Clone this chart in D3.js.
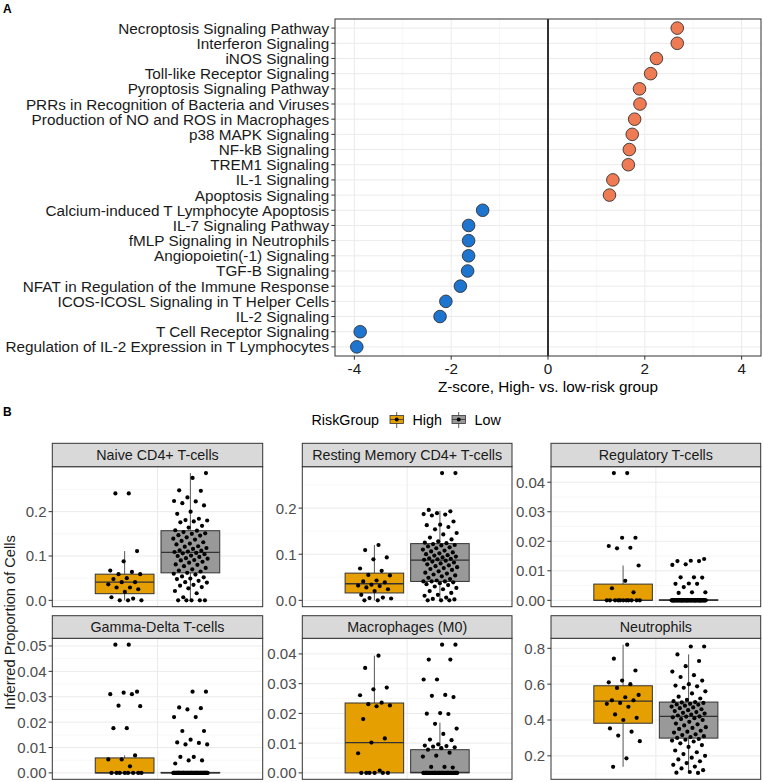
<!DOCTYPE html>
<meta charset="utf-8">
<style>
body { margin: 0; background: #fff; }
text { font-family: Arial, "Liberation Sans", sans-serif; }
.grid-major { stroke: #ebebeb; stroke-width: 1; }
.grid-minor { stroke: #f2f2f2; stroke-width: 0.6; }
.frame { fill: none; stroke: #333; stroke-width: 1; }
.tick { stroke: #333; stroke-width: 1; }
</style>
<body>
<script src="https://d3js.org/d3.v7.min.js"></script>
<script>

var width = 763,
    height = 782;

// ---------- panel A data ----------
var pathways = [
  "Necroptosis Signaling Pathway",
  "Interferon Signaling",
  "iNOS Signaling",
  "Toll-like Receptor Signaling",
  "Pyroptosis Signaling Pathway",
  "PRRs in Recognition of Bacteria and Viruses",
  "Production of NO and ROS in Macrophages",
  "p38 MAPK Signaling",
  "NF-kB Signaling",
  "TREM1 Signaling",
  "IL-1 Signaling",
  "Apoptosis Signaling",
  "Calcium-induced T Lymphocyte Apoptosis",
  "IL-7 Signaling Pathway",
  "fMLP Signaling in Neutrophils",
  "Angiopoietin(-1) Signaling",
  "TGF-B Signaling",
  "NFAT in Regulation of the Immune Response",
  "ICOS-ICOSL Signaling in T Helper Cells",
  "IL-2 Signaling",
  "T Cell Receptor Signaling",
  "Regulation of IL-2 Expression in T Lymphocytes"
];
var zscores = [2.67, 2.67, 2.24, 2.12, 1.89, 1.90, 1.79, 1.74, 1.68, 1.66, 1.34, 1.27,
  -1.35, -1.64, -1.64, -1.64, -1.66, -1.81, -2.11, -2.23, -3.88, -3.95];
var zTicks = [-4, -2, 0, 2, 4];

// ---------- panel B data ----------
var cellTypes = ["Naive CD4+ T-cells", "Resting Memory CD4+ T-cells", "Regulatory T-cells",
  "Gamma-Delta T-cells", "Macrophages (M0)", "Neutrophils"];
var riskGroups = ["High", "Low"];

var naiveHigh = [0.241, 0.241, 0.111, 0.088, 0.067, 0.064, 0.059, 0.059, 0.05, 0.048, 0.041, 0.041,
  0.036, 0.029, 0.029, 0.025, 0.019, 0.007, 0.004, 0, 0, 0];
var naiveLow = [0.287, 0.276, 0.248, 0.247, 0.232, 0.224, 0.223, 0.219, 0.214, 0.2, 0.195, 0.184, 0.181,
  0.18, 0.178, 0.176, 0.168, 0.164, 0.158, 0.157, 0.154, 0.151, 0.15, 0.147, 0.146, 0.142, 0.139,
  0.137, 0.134, 0.131, 0.128, 0.126, 0.122, 0.121, 0.118, 0.116, 0.113, 0.112, 0.11, 0.109,
  0.107, 0.106, 0.104, 0.101, 0.1, 0.098, 0.095, 0.094, 0.091, 0.09, 0.087, 0.085, 0.081, 0.08,
  0.077, 0.073, 0.07, 0.067, 0.065, 0.062, 0.06, 0.058, 0.054, 0.052, 0.049, 0.048, 0.044, 0.041,
  0.04, 0.035, 0.033, 0.03, 0.027, 0.021, 0.016, 0.007, 0, 0, 0, 0, 0];
var restingHigh = [0.12, 0.109, 0.093, 0.089, 0.069, 0.064, 0.055, 0.054, 0.043, 0.041, 0.039, 0.034,
  0.032, 0.031, 0.028, 0.024, 0.02, 0.012, 0.006, 0.005, 0.004, 0, 0];
var restingLow = [0.276, 0.276, 0.196, 0.193, 0.189, 0.187, 0.186, 0.184, 0.171, 0.164, 0.163, 0.159,
  0.154, 0.146, 0.143, 0.136, 0.132, 0.128, 0.125, 0.124, 0.122, 0.12, 0.119, 0.117, 0.115, 0.113,
  0.11, 0.108, 0.106, 0.104, 0.102, 0.1, 0.098, 0.097, 0.095, 0.093, 0.091, 0.09, 0.089, 0.088,
  0.086, 0.084, 0.082, 0.08, 0.078, 0.076, 0.074, 0.072, 0.07, 0.068, 0.066, 0.063, 0.06, 0.058,
  0.056, 0.054, 0.052, 0.049, 0.046, 0.043, 0.041, 0.041, 0.041, 0.039, 0.037, 0.035, 0.033, 0.03,
  0.027, 0.024, 0.02, 0.016, 0.012, 0.01, 0.006, 0.003, 0.002, 0, 0, 0];
var tregHigh = [0.0431, 0.0431, 0.0212, 0.0212, 0.0184, 0.0178, 0.0176, 0.0118, 0.0066, 0.0041, 0.0027,
  0, 0, 0, 0, 0, 0, 0, 0, 0, 0, 0];
var tregLow = [0.014, 0.0134, 0.0133, 0.0133, 0.0122, 0.012, 0.0078, 0.0078, 0.0077, 0.0057, 0.0056,
  0.0056, 0.0045, 0.0027, 0.0027, 0.0025,
  0, 0, 0, 0, 0, 0, 0, 0, 0, 0, 0, 0, 0, 0, 0, 0, 0, 0, 0, 0,
  0, 0, 0, 0, 0, 0, 0, 0, 0, 0, 0, 0, 0, 0, 0, 0, 0, 0, 0, 0,
  0, 0, 0, 0, 0, 0, 0, 0, 0, 0, 0, 0, 0, 0, 0, 0, 0, 0, 0, 0];
var gdHigh = [0.0505, 0.0505, 0.032, 0.0316, 0.031, 0.031, 0.0265, 0.0263, 0.0176, 0.0176, 0.0069,
  0.0053, 0.0053, 0.0026, 0, 0, 0, 0, 0, 0, 0, 0];
var gdLow = [0.032, 0.032, 0.0258, 0.0255, 0.025, 0.022, 0.022, 0.0165, 0.0165, 0.0131, 0.012, 0.0118,
  0.0112, 0.0112, 0.0063, 0.0063, 0.0049, 0.0049, 0.0037,
  0, 0, 0, 0, 0, 0, 0, 0, 0, 0, 0, 0, 0, 0, 0, 0, 0, 0, 0, 0,
  0, 0, 0, 0, 0, 0, 0, 0, 0, 0, 0, 0, 0, 0, 0, 0, 0, 0, 0, 0,
  0, 0, 0, 0, 0, 0, 0, 0, 0, 0, 0, 0, 0, 0, 0, 0, 0, 0, 0, 0];
var m0High = [0.0394, 0.0353, 0.0287, 0.0281, 0.0261, 0.0236, 0.0231, 0.0227, 0.0224, 0.0181, 0.0116,
  0.0102, 0.0066, 0.0008, 0, 0, 0, 0, 0, 0];
var m0Low = [0.0431, 0.0431, 0.0381, 0.0381, 0.0314, 0.0314, 0.0262, 0.0259, 0.0255, 0.0201, 0.0199,
  0.0198, 0.0165, 0.0149, 0.0131, 0.0112, 0.011, 0.0096, 0.0092, 0.009, 0.0088, 0.0086, 0.0083,
  0.0078, 0.0068, 0.0058, 0.0055, 0.002, 0.002, 0.0018,
  0, 0, 0, 0, 0, 0, 0, 0, 0, 0, 0, 0, 0, 0, 0, 0, 0, 0, 0, 0,
  0, 0, 0, 0, 0, 0, 0, 0, 0, 0, 0, 0, 0, 0, 0, 0, 0, 0, 0, 0];
var neutHigh = [0.82, 0.742, 0.676, 0.62, 0.61, 0.6, 0.579, 0.54, 0.527, 0.51, 0.51, 0.495, 0.49,
  0.474, 0.431, 0.412, 0.4, 0.353, 0.335, 0.313, 0.282, 0.186, 0.139];
var neutLow = [0.81, 0.81, 0.766, 0.729, 0.7, 0.67, 0.65, 0.64, 0.62, 0.6, 0.592, 0.588, 0.58, 0.56,
  0.548, 0.53, 0.52, 0.512, 0.505, 0.5, 0.498, 0.495, 0.49, 0.487, 0.485, 0.48, 0.475, 0.47, 0.466,
  0.46, 0.455, 0.45, 0.444, 0.44, 0.436, 0.43, 0.425, 0.42, 0.419, 0.415, 0.41, 0.405, 0.4, 0.39,
  0.38, 0.376, 0.37, 0.36, 0.356, 0.35, 0.34, 0.335, 0.33, 0.32, 0.316, 0.31, 0.305, 0.3, 0.294,
  0.29, 0.285, 0.28, 0.27, 0.26, 0.25, 0.23, 0.22, 0.21, 0.2, 0.19, 0.18, 0.17, 0.16, 0.15, 0.14,
  0.13, 0.12, 0.11, 0.106, 0.105];

// box stats: [lower whisker, q1, median, q3, upper whisker]
var boxHigh = [
  [0, 0.015, 0.041, 0.059, 0.111],
  [0, 0.016, 0.036, 0.059, 0.12],
  [0, 0, 0, 0.0055, 0.0118],
  [0, 0, 0, 0.0059, 0.0069],
  [0, 0, 0.0102, 0.0235, 0.0394],
  [0.139, 0.382, 0.505, 0.591, 0.82]
];
var boxLow = [
  [0, 0.062, 0.108, 0.157, 0.287],
  [0, 0.041, 0.087, 0.123, 0.194],
  [0, 0, 0, 0.0002, 0.0005],
  [0, 0, 0, 0.0002, 0.0004],
  [0, 0, 0.0002, 0.0078, 0.0169],
  [0.105, 0.299, 0.42, 0.5, 0.766]
];
var pointsHigh = [naiveHigh, restingHigh, tregHigh, gdHigh, m0High, neutHigh];
var pointsLow = [naiveLow, restingLow, tregLow, gdLow, m0Low, neutLow];
var yTicks = [
  [0, 0.1, 0.2],
  [0, 0.1, 0.2],
  [0, 0.01, 0.02, 0.03, 0.04],
  [0, 0.01, 0.02, 0.03, 0.04, 0.05],
  [0, 0.01, 0.02, 0.03, 0.04],
  [0.2, 0.4, 0.6, 0.8]
];
var yFormats = [".1f", ".1f", ".2f", ".2f", ".2f", ".1f"];

var groupColor = { High: "#E69F00", Low: "#999999" };

var svg = d3.select("body").append("svg")
    .attr("width", width)
    .attr("height", height);

// ================= Panel A =================
var A = { left: 335, right: 761, top: 19, bottom: 356 };

var x = d3.scaleLinear()
    .domain([-4.4, 4.4])
    .range([A.left, A.right]);

var y = d3.scalePoint()
    .domain(pathways)
    .range([A.top, A.bottom])
    .padding(0.6);

svg.append("text")
    .attr("x", 3).attr("y", 13)
    .style("font-weight", "bold").style("font-size", "12px")
    .text("A");

var gA = svg.append("g");

// vertical grid, every unit
gA.selectAll(".vg")
    .data(d3.range(-4, 5))
    .enter().append("line")
    .attr("class", function(d) { return d % 2 === 0 ? "grid-major" : "grid-minor"; })
    .attr("x1", function(d) { return x(d); })
    .attr("x2", function(d) { return x(d); })
    .attr("y1", A.top).attr("y2", A.bottom);

gA.selectAll(".hg")
    .data(pathways)
    .enter().append("line")
    .attr("class", "grid-major")
    .attr("x1", A.left).attr("x2", A.right)
    .attr("y1", function(d) { return y(d); })
    .attr("y2", function(d) { return y(d); });

// zero line
gA.append("line")
    .attr("x1", x(0)).attr("x2", x(0))
    .attr("y1", A.top).attr("y2", A.bottom)
    .attr("stroke", "#000").attr("stroke-width", 1.6);

gA.selectAll("circle")
    .data(pathways)
    .enter().append("circle")
    .attr("cx", function(d, i) { return x(zscores[i]); })
    .attr("cy", function(d) { return y(d); })
    .attr("r", 6.3)
    .attr("fill", function(d, i) { return zscores[i] > 0 ? "#EE7B54" : "#1E75D0"; })
    .attr("stroke", "#333")
    .attr("stroke-width", 0.9);

gA.append("rect")
    .attr("class", "frame")
    .attr("x", A.left).attr("y", A.top)
    .attr("width", A.right - A.left).attr("height", A.bottom - A.top);

// y axis labels
gA.selectAll(".ytick")
    .data(pathways)
    .enter().append("line")
    .attr("class", "tick")
    .attr("x1", A.left - 3.7).attr("x2", A.left)
    .attr("y1", function(d) { return y(d); })
    .attr("y2", function(d) { return y(d); });

gA.selectAll(".ylab")
    .data(pathways)
    .enter().append("text")
    .attr("x", A.left - 5.8)
    .attr("y", function(d) { return y(d); })
    .attr("dy", "0.36em")
    .attr("text-anchor", "end")
    .style("font-size", "15.3px")
    .attr("fill", "#1a1a1a")
    .text(function(d) { return d; });

// x axis
gA.selectAll(".xtick")
    .data(zTicks)
    .enter().append("line")
    .attr("class", "tick")
    .attr("x1", function(d) { return x(d); })
    .attr("x2", function(d) { return x(d); })
    .attr("y1", A.bottom).attr("y2", A.bottom + 3.7);

gA.selectAll(".xlab")
    .data(zTicks)
    .enter().append("text")
    .attr("x", function(d) { return x(d); })
    .attr("y", A.bottom + 17.5)
    .attr("text-anchor", "middle")
    .style("font-size", "15.3px")
    .attr("fill", "#1a1a1a")
    .text(function(d) { return d3.format("d")(d).replace("−", "-"); });

gA.append("text")
    .attr("x", (A.left + A.right) / 2)
    .attr("y", 392)
    .attr("text-anchor", "middle")
    .style("font-size", "15.3px")
    .text("Z-score, High- vs. low-risk group");

// ================= Panel B =================
svg.append("text")
    .attr("x", 3).attr("y", 416)
    .style("font-weight", "bold").style("font-size", "12px")
    .text("B");

// legend
var lg = svg.append("g");
lg.append("text")
    .attr("x", 311.5).attr("y", 425)
    .style("font-size", "14.3px")
    .text("RiskGroup");

var legendX = [390, 452];
riskGroups.forEach(function(g, i) {
  var cx = legendX[i] + 6.7;
  lg.append("line")
      .attr("x1", cx).attr("x2", cx).attr("y1", 412).attr("y2", 428)
      .attr("stroke", "#333").attr("stroke-width", 0.8);
  lg.append("rect")
      .attr("x", legendX[i]).attr("y", 415.5)
      .attr("width", 13.4).attr("height", 8)
      .attr("fill", groupColor[g]).attr("stroke", "#333").attr("stroke-width", 0.8);
  lg.append("line")
      .attr("x1", legendX[i]).attr("x2", legendX[i] + 13.4).attr("y1", 419.5).attr("y2", 419.5)
      .attr("stroke", "#333").attr("stroke-width", 0.8);
  lg.append("circle")
      .attr("cx", cx).attr("cy", 419.5).attr("r", 2)
      .attr("fill", "#000");
  lg.append("text")
      .attr("x", legendX[i] + 22.5).attr("y", 425)
      .style("font-size", "14.3px")
      .text(g);
});

// facet layout
var colLeft = [52.3, 302.3, 551],
    colRight = [262.7, 512, 760.7],
    stripTop = [443.3, 615.7],
    panelTop = [466.7, 638.3],
    panelBottom = [606.7, 779.3];

// jitter offset in x units, fixed per index (golden ratio sequence)
function jitter(i) {
  return (((i + 1) * 0.6180339887) % 1 - 0.5) * 0.2;
}

cellTypes.forEach(function(name, k) {
  var c = k % 3, r = Math.floor(k / 3);
  var L = colLeft[c], R = colRight[c], T = panelTop[r], B = panelBottom[r];

  var all = pointsHigh[k].concat(pointsLow[k], boxHigh[k], boxLow[k]);
  var ext = d3.extent(all), pad = (ext[1] - ext[0]) * 0.05;
  var yy = d3.scaleLinear().domain([ext[0] - pad, ext[1] + pad]).range([B, T]);
  var xx = d3.scaleLinear().domain([0.4, 1.6]).range([L, R]);
  var centers = { High: 1 - 0.1875, Low: 1 + 0.1875 };
  var halfBox = 0.1675;

  var g = svg.append("g");

  // grid
  var ticks = yTicks[k];
  var step = ticks[1] - ticks[0];
  var minor = [];
  for (var i = -1; i < ticks.length; i++) {
    var m = ticks[0] + (i + 0.5) * step;
    if (m > yy.domain()[0] && m < yy.domain()[1]) minor.push(m);
  }
  g.selectAll(".mn").data(minor).enter().append("line")
      .attr("class", "grid-minor")
      .attr("x1", L).attr("x2", R)
      .attr("y1", function(d) { return yy(d); }).attr("y2", function(d) { return yy(d); });
  g.selectAll(".mj").data(ticks).enter().append("line")
      .attr("class", "grid-major")
      .attr("x1", L).attr("x2", R)
      .attr("y1", function(d) { return yy(d); }).attr("y2", function(d) { return yy(d); });
  g.append("line")
      .attr("class", "grid-major")
      .attr("x1", xx(1)).attr("x2", xx(1)).attr("y1", T).attr("y2", B);

  // boxes
  var boxes = [boxHigh[k], boxLow[k]];
  riskGroups.forEach(function(grp, j) {
    var s = boxes[j], cx = xx(centers[grp]);
    var x0 = xx(centers[grp] - halfBox), x1 = xx(centers[grp] + halfBox);
    g.append("line")
        .attr("x1", cx).attr("x2", cx).attr("y1", yy(s[4])).attr("y2", yy(s[3]))
        .attr("stroke", "#555").attr("stroke-width", 1);
    g.append("line")
        .attr("x1", cx).attr("x2", cx).attr("y1", yy(s[1])).attr("y2", yy(s[0]))
        .attr("stroke", "#555").attr("stroke-width", 1);
    g.append("rect")
        .attr("x", x0).attr("y", yy(s[3]))
        .attr("width", x1 - x0).attr("height", Math.max(yy(s[1]) - yy(s[3]), 0.5))
        .attr("fill", groupColor[grp]).attr("stroke", "#333").attr("stroke-width", 1);
    g.append("line")
        .attr("x1", x0).attr("x2", x1).attr("y1", yy(s[2])).attr("y2", yy(s[2]))
        .attr("stroke", "#333").attr("stroke-width", 1.3);
  });

  // jittered points
  var pts = [pointsHigh[k], pointsLow[k]];
  riskGroups.forEach(function(grp, j) {
    g.selectAll(".p" + j).data(pts[j]).enter().append("circle")
        .attr("cx", function(d, i) { return xx(centers[grp] + jitter(i + j * 7)); })
        .attr("cy", function(d) { return yy(d); })
        .attr("r", 2.1)
        .attr("fill", "#000");
  });

  // frame + strip
  g.append("rect").attr("class", "frame")
      .attr("x", L).attr("y", T).attr("width", R - L).attr("height", B - T);
  g.append("rect")
      .attr("x", L).attr("y", stripTop[r]).attr("width", R - L).attr("height", T - stripTop[r])
      .attr("fill", "#d9d9d9").attr("stroke", "#333").attr("stroke-width", 1);
  g.append("text")
      .attr("x", (L + R) / 2).attr("y", (stripTop[r] + T) / 2)
      .attr("dy", "0.36em")
      .attr("text-anchor", "middle")
      .style("font-size", "14.3px")
      .attr("fill", "#1a1a1a")
      .text(name);

  // y axis
  var fmt = d3.format(yFormats[k]);
  g.selectAll(".yt").data(ticks).enter().append("line")
      .attr("class", "tick")
      .attr("x1", L - 3.7).attr("x2", L)
      .attr("y1", function(d) { return yy(d); }).attr("y2", function(d) { return yy(d); });
  g.selectAll(".yl").data(ticks).enter().append("text")
      .attr("x", L - 5.8)
      .attr("y", function(d) { return yy(d); })
      .attr("dy", "0.36em")
      .attr("text-anchor", "end")
      .style("font-size", "15px")
      .attr("fill", "#4d4d4d")
      .text(function(d) { return fmt(d); });
});

svg.append("text")
    .attr("transform", "translate(14.5,622.5)rotate(-90)")
    .attr("text-anchor", "middle")
    .style("font-size", "14.6px")
    .attr("fill", "#1a1a1a")
    .text("Inferred Proportion of Cells");

</script>
